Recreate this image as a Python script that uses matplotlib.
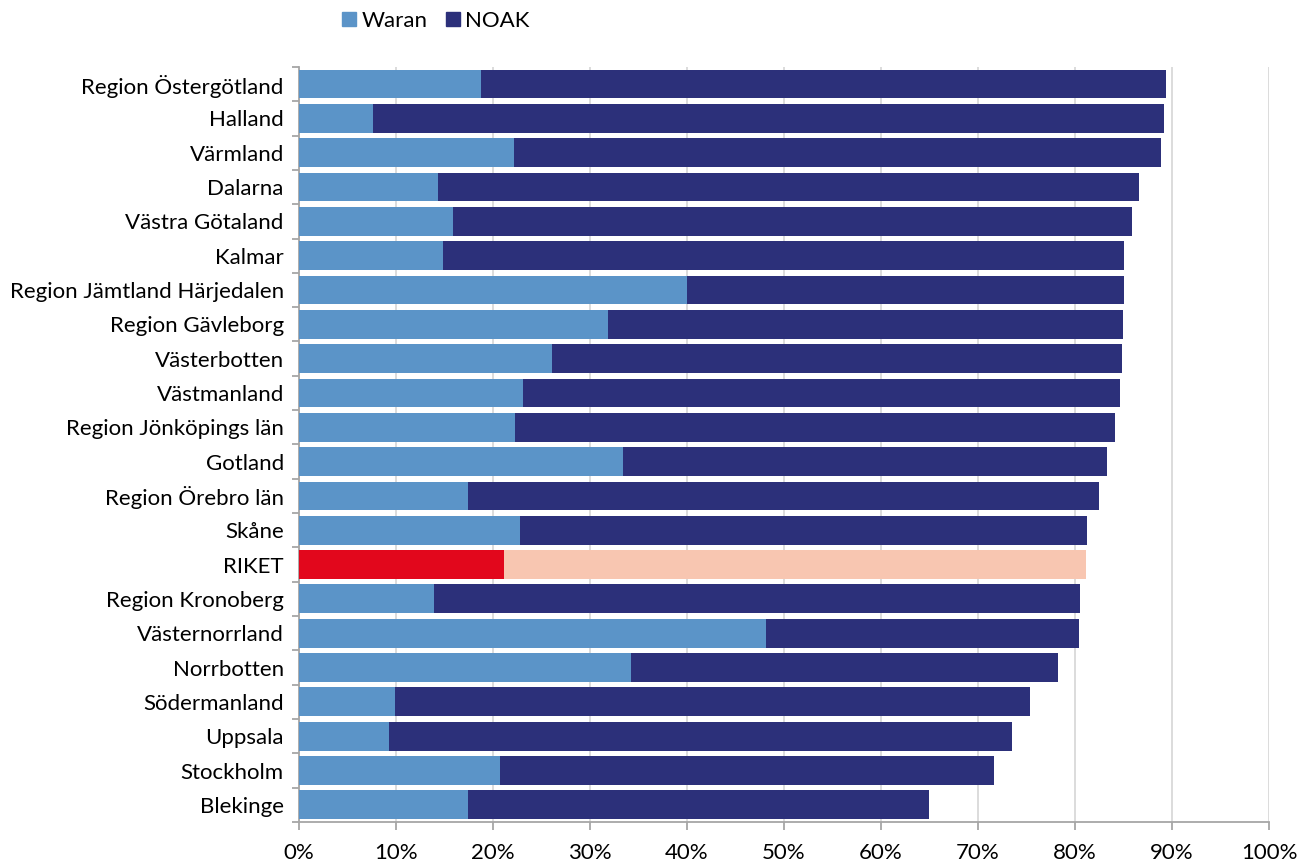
import numpy as np
import matplotlib.pyplot as plt
from matplotlib.patches import Patch

plt.rcParams['font.family'] = ['Lato', 'DejaVu Sans']

regions = ['Region Östergötland', 'Halland', 'Värmland', 'Dalarna', 'Västra Götaland',
           'Kalmar', 'Region Jämtland Härjedalen', 'Region Gävleborg', 'Västerbotten',
           'Västmanland', 'Region Jönköpings län', 'Gotland', 'Region Örebro län', 'Skåne',
           'RIKET', 'Region Kronoberg', 'Västernorrland', 'Norrbotten', 'Södermanland',
           'Uppsala', 'Stockholm', 'Blekinge']
# share of patients (%) - Waran and total (Waran + NOAK)
waran = [18.8, 7.6, 22.2, 14.3, 15.9, 14.8, 40.0, 31.8, 26.1, 23.1, 22.3, 33.4,
         17.4, 22.8, 21.1, 13.9, 48.1, 34.2, 9.9, 9.3, 20.7, 17.4]
total = [89.4, 89.2, 88.9, 86.6, 85.9, 85.1, 85.0, 84.9, 84.8, 84.6, 84.1, 83.3,
         82.5, 81.2, 81.1, 80.5, 80.4, 78.2, 75.4, 73.5, 71.6, 64.9]
noak = [t - w for t, w in zip(total, waran)]

c_waran, c_noak = '#5B94C8', '#2C307A'
c_riket_w, c_riket_n = '#E2071C', '#F8C6B1'

fig = plt.figure(figsize=(13.01, 8.61), dpi=100)
ax = fig.add_axes([0.2299, 0.0453, 0.7455, 0.877])

y = np.arange(len(regions))
col_w = [c_riket_w if r == 'RIKET' else c_waran for r in regions]
col_n = [c_riket_n if r == 'RIKET' else c_noak for r in regions]
ax.barh(y, waran, height=0.84, color=col_w, zorder=3)
ax.barh(y, noak, left=waran, height=0.84, color=col_n, zorder=3)

ax.set_ylim(len(regions) - 0.5, -0.5)
ax.set_xlim(0, 100)
ax.set_xticks(np.arange(0, 101, 10))
ax.set_xticklabels([f'{v}%' for v in range(0, 101, 10)], fontsize=16)
ax.xaxis.grid(True, color='#D9D9D9', linewidth=1.3, zorder=0)

ax.set_yticks(y)
ax.set_yticklabels(regions, fontsize=16)
ax.set_yticks(np.arange(-0.5, len(regions), 1), minor=True)
ax.tick_params(axis='y', which='major', length=0, pad=11)
ax.tick_params(axis='y', which='minor', length=5, color='#A6A6A6', width=1.3)
ax.tick_params(axis='x', length=6, color='#A6A6A6', width=1.3, pad=9)

for s in ['top', 'right']:
    ax.spines[s].set_visible(False)
for s in ['left', 'bottom']:
    ax.spines[s].set_color('#A6A6A6')
    ax.spines[s].set_linewidth(1.3)

handles = [Patch(color=c_waran, label='Waran'), Patch(color=c_noak, label='NOAK')]
fig.legend(handles=handles, loc='center', bbox_to_anchor=(0.335, 0.976), ncol=2,
           frameon=False, fontsize=16, handlelength=0.62, handleheight=0.62,
           handletextpad=0.25, columnspacing=0.85)

fig.savefig('out.png', dpi=100)
